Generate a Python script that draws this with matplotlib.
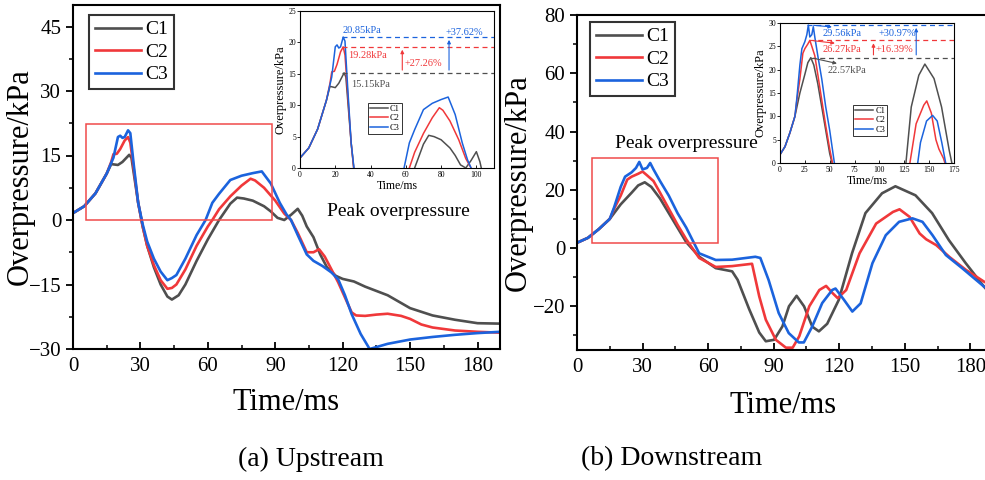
import matplotlib.pyplot as plt
from matplotlib.patches import Rectangle
from matplotlib.ticker import MultipleLocator

plt.rcParams['font.family'] = ['Liberation Serif', 'DejaVu Serif']
plt.rcParams['mathtext.fontset'] = 'stix'

# ---- (a) Upstream ----
up_c1_t = [0, 5, 10, 15, 17, 20, 22, 24, 25, 26, 27, 29, 31, 33, 36, 39, 42, 44, 47, 50, 55, 60, 65,
           70, 73, 76, 80, 85, 88, 91, 94, 97, 100, 102, 104, 107, 110, 113, 117, 120, 125, 130, 140,
           150, 160, 170, 180, 190]
up_c1_v = [1.6, 3.2, 6.2, 10.8, 13.0, 12.8, 13.5, 14.6, 15.15, 14.5, 11.0, 4.0, -1.5, -6.0, -11.0,
           -15.0, -17.8, -18.5, -17.5, -15.0, -9.5, -4.5, 0.0, 3.8, 5.2, 5.0, 4.5, 3.2, 2.0, 0.5, 0.0,
           1.2, 2.6, 1.0, -1.5, -4.0, -8.0, -11.0, -13.0, -13.7, -14.3, -15.5, -17.5, -20.5, -22.2,
           -23.2, -24.0, -24.1]

up_c2_t = [0, 5, 10, 15, 17, 18, 19.5, 21, 23, 24.5, 25.5, 27, 29, 31, 33, 36, 39, 42, 44, 46, 50,
           55, 60, 62, 65, 70, 75, 79, 81, 85, 90, 94, 97, 100, 104, 107, 109.5, 112, 115, 118, 121,
           124, 126, 130, 135, 140, 146, 150, 155, 160, 170, 180, 190]
up_c2_v = [1.6, 3.2, 6.2, 10.8, 13.5, 15.3, 15.4, 16.5, 18.5, 19.28, 18.0, 12.0, 4.0, -1.5, -6.0,
           -10.5, -14.0, -16.0, -15.8, -15.0, -11.5, -6.0, -1.5, 0.0, 2.5, 5.5, 8.0, 9.6, 9.2, 7.5,
           4.5, 1.5, 0.0, -3.0, -7.5, -7.5, -6.8, -8.5, -11.5, -14.5, -18.0, -21.5, -22.2, -22.3,
           -22.0, -21.8, -22.3, -23.0, -24.3, -25.0, -25.7, -26.0, -26.2]

up_c3_t = [0, 5, 10, 15, 18, 20, 21, 22, 23, 24.5, 25.5, 27, 29, 31, 33, 36, 39, 42, 44, 46, 50, 55,
           59, 62, 65, 70, 75, 80, 84, 88, 92, 95, 97, 100, 104, 107, 111, 115, 118, 121, 124, 128,
           132, 140, 150, 160, 170, 180, 190]
up_c3_v = [1.6, 3.2, 6.2, 10.8, 14.5, 19.3, 19.6, 19.1, 19.3, 20.85, 20.2, 13.0, 4.0, -1.0, -5.0,
           -9.0, -12.0, -14.0, -13.5, -12.8, -9.0, -3.5, 0.0, 4.0, 6.1, 9.3, 10.3, 10.9, 11.3, 8.5,
           4.0, 1.3, 0.0, -3.5, -8.0, -9.5, -10.7, -12.2, -13.8, -17.5, -21.9, -26.5, -30.0, -28.8,
           -27.8, -27.2, -26.7, -26.3, -26.0]

# ---- (b) Downstream ----
dn_c1_t = [0, 5, 10, 15, 20, 25, 28, 31, 34, 38, 42, 46, 50, 56, 63.5, 71, 73.5, 78.8, 83.4, 86.4,
           90.2, 94, 97, 100.5, 103.9, 107.7, 110.7, 114.5, 119.8, 125.9, 132, 139.6, 145.7, 154.9,
           162.5, 170.2, 177.8, 186.2, 190]
dn_c1_v = [1.8, 3.5, 6.5, 10.0, 15.0, 19.0, 21.5, 22.57, 21.0, 17.0, 12.0, 7.0, 2.0, -3.0, -6.9,
           -8.0, -10.9, -21.0, -29.0, -32.0, -31.5, -26.9, -20.0, -16.4, -20.0, -27.0, -28.6, -26.0,
           -17.8, -1.7, 12.0, 18.8, 21.2, 18.1, 12.0, 2.7, -5.1, -13.2, -16.5]

dn_c2_t = [0, 5, 10, 15, 17, 20, 23, 25, 28, 30, 32, 35, 38, 42, 46, 50, 55.9, 63.5, 71, 80.1, 83.4,
           86.4, 91, 95.6, 98.7, 101.7, 106.3, 110.9, 114, 117, 119.3, 123.2, 129.3, 136.9, 144.6,
           147.6, 152.2, 156.8, 159.8, 164.4, 170.5, 178, 186.2, 190]
dn_c2_v = [1.8, 3.5, 6.5, 10.0, 13.5, 18.0, 23.5, 24.5, 25.5, 26.27, 25.0, 23.0, 19.0, 13.5, 8.0,
           3.0, -3.4, -6.5, -6.2, -5.4, -16.6, -24.6, -31.5, -34.2, -34.2, -30.3, -20.0, -14.4,
           -13.0, -15.5, -17.2, -14.4, -1.8, 8.4, 12.4, 13.3, 10.7, 5.0, 3.0, 1.0, -3.1, -7.5,
           -11.5, -13.0]

dn_c3_t = [0, 5, 10, 15, 17, 20, 22, 25, 27, 28.5, 30, 32, 33.5, 35, 38, 42, 46, 50, 55.9, 63.5,
           71, 81.6, 83.9, 87.7, 92.3, 96.9, 101.5, 103.8, 107.6, 112.2, 116.8, 118.3, 122.2, 126,
           129.8, 135.2, 141.3, 147.4, 153.5, 158.1, 162.7, 168.8, 176.4, 186.2, 190]
dn_c3_v = [1.8, 3.5, 6.5, 10.0, 14.0, 21.0, 24.5, 26.0, 27.5, 29.56, 27.0, 27.5, 29.2, 27.0, 23.0,
           18.0, 12.0, 7.0, -1.8, -4.1, -4.0, -3.0, -3.4, -11.0, -22.3, -29.2, -32.4, -32.4, -27.0,
           -18.9, -14.4, -13.9, -17.8, -21.8, -19.0, -5.2, 4.4, 9.0, 10.2, 9.0, 4.4, -2.4, -7.0,
           -13.2, -15.0]

labels = ['C1', 'C2', 'C3']
colors = ['#4f4f4f', '#f0383a', '#1b63dd']

up_peaks = [15.15, 19.28, 20.85]
dn_peaks = [22.57, 26.27, 29.56]

W, H = 985, 480


def box(x0, y0, x1, y1):
    return [x0 / W, 1 - y1 / H, (x1 - x0) / W, (y1 - y0) / H]


def style_main(ax):
    for s in ax.spines.values():
        s.set_linewidth(1.5)
    ax.tick_params(axis='x', which='both', direction='in', labelsize=15, pad=6)
    ax.tick_params(axis='y', which='both', direction='out', labelsize=15)
    ax.tick_params(which='major', length=5, width=1.3)
    ax.tick_params(which='minor', length=3, width=1.1)
    ax.set_xlabel('Time/ms', fontsize=22)
    ax.set_ylabel('Overpressure/kPa', fontsize=22)


def style_inset(ax):
    for s in ax.spines.values():
        s.set_linewidth(0.8)
    ax.tick_params(axis='x', direction='in', labelsize=5.5, length=2, width=0.6, pad=2)
    ax.tick_params(axis='y', direction='out', labelsize=5.5, length=2, width=0.6, pad=1)
    ax.set_xlabel('Time/ms', fontsize=8.5, labelpad=1)
    ax.set_ylabel('Overpressure/kPa', fontsize=9, labelpad=1)


fig = plt.figure(figsize=(9.85, 4.8), dpi=100)
ax1 = fig.add_axes(box(73, 5, 500, 349))
ax2 = fig.add_axes(box(577, 15, 990, 350))
in1 = fig.add_axes(box(300, 11, 494, 168))
in2 = fig.add_axes(box(780, 23, 954, 163))

up = [(up_c1_t, up_c1_v), (up_c2_t, up_c2_v), (up_c3_t, up_c3_v)]
dn = [(dn_c1_t, dn_c1_v), (dn_c2_t, dn_c2_v), (dn_c3_t, dn_c3_v)]

for (t, v), lab, c in zip(up, labels, colors):
    ax1.plot(t, v, color=c, lw=1.9, label=lab)
    in1.plot(t, v, color=c, lw=1.1, label=lab)
for (t, v), lab, c in zip(dn, labels, colors):
    ax2.plot(t, v, color=c, lw=1.9, label=lab)
    in2.plot(t, v, color=c, lw=1.1, label=lab)

# main axes (a)
ax1.set_xlim(0, 190)
ax1.set_ylim(-30, 50)
ax1.set_xticks([0, 30, 60, 90, 120, 150, 180])
ax1.set_yticks([-30, -15, 0, 15, 30, 45])
ax1.xaxis.set_minor_locator(MultipleLocator(15))
ax1.yaxis.set_minor_locator(MultipleLocator(7.5))
style_main(ax1)
ax1.yaxis.set_label_coords(-0.09, 0.5)
ax1.xaxis.set_label_coords(0.5, -0.113)
ax1.add_patch(Rectangle((5.6, 0), 82.8, 22.3, fill=False, edgecolor='#f04a4a', lw=1.1, zorder=5))
ax1.text(145, 2.0, 'Peak overpressure', fontsize=14, ha='center', va='center')
ax1.legend(loc='upper left', bbox_to_anchor=(0.037, 0.971), borderaxespad=0, fontsize=14,
           frameon=True, fancybox=False, edgecolor='black', handlelength=2.4, handletextpad=0.2,
           labelspacing=0.25, borderpad=0.3).get_frame().set_linewidth(1.5)

# main axes (b)
ax2.set_xlim(0, 189)
ax2.set_ylim(-35, 80)
ax2.set_xticks([0, 30, 60, 90, 120, 150, 180])
ax2.set_yticks([-20, 0, 20, 40, 60, 80])
ax2.xaxis.set_minor_locator(MultipleLocator(15))
ax2.yaxis.set_minor_locator(MultipleLocator(10))
style_main(ax2)
ax2.yaxis.set_label_coords(-0.107, 0.5)
ax2.xaxis.set_label_coords(0.5, -0.122)
ax2.add_patch(Rectangle((6.7, 1.7), 57.9, 29.2, fill=False, edgecolor='#f04a4a', lw=1.1, zorder=5))
ax2.text(50, 36, 'Peak overpressure', fontsize=14, ha='center', va='center')
ax2.legend(loc='upper left', bbox_to_anchor=(0.031, 0.979), borderaxespad=0, fontsize=14,
           frameon=True, fancybox=False, edgecolor='black', handlelength=2.4, handletextpad=0.2,
           labelspacing=0.25, borderpad=0.3).get_frame().set_linewidth(1.5)

# inset (a)
in1.set_xlim(0, 110)
in1.set_ylim(0, 25)
in1.set_xticks([0, 20, 40, 60, 80, 100])
in1.set_yticks([0, 5, 10, 15, 20, 25])
style_inset(in1)
for p, c in zip(up_peaks, colors):
    in1.plot([24, 110], [p, p], color=c, lw=0.9, ls=(0, (4, 3)))
in1.text(24, 21.1, '20.85kPa', color=colors[2], fontsize=7.5, va='bottom', ha='left')
in1.text(27.5, 18.7, '19.28kPa', color=colors[1], fontsize=7.5, va='top', ha='left')
in1.text(29, 13.3, '15.15kPa', color=colors[0], fontsize=7.5, va='center', ha='left')
in1.annotate('', xy=(58, up_peaks[1]), xytext=(58, up_peaks[0]),
             arrowprops=dict(arrowstyle='-|>', color=colors[1], lw=0.8, mutation_scale=5))
in1.text(59.5, 16.6, '+27.26%', color=colors[1], fontsize=7.5, va='center', ha='left')
in1.annotate('', xy=(84.5, up_peaks[2]), xytext=(84.5, up_peaks[0]),
             arrowprops=dict(arrowstyle='-|>', color=colors[2], lw=0.8, mutation_scale=5))
in1.text(93, 21.6, '+37.62%', color=colors[2], fontsize=7.5, va='center', ha='center')
in1.legend(loc='upper left', bbox_to_anchor=(0.35, 0.414), borderaxespad=0, fontsize=6,
           frameon=True, fancybox=False, edgecolor='black', handlelength=2.2, handletextpad=0.2,
           labelspacing=0.15, borderpad=0.25).get_frame().set_linewidth(0.7)

# inset (b)
in2.set_xlim(0, 175)
in2.set_ylim(0, 30)
in2.set_xticks([0, 25, 50, 75, 100, 125, 150, 175])
in2.set_yticks([0, 5, 10, 15, 20, 25, 30])
style_inset(in2)
for p, c, x0 in zip(dn_peaks, colors, [31, 29, 27]):
    in2.plot([x0, 175], [p, p], color=c, lw=0.9, ls=(0, (4, 3)))
for p, c, xe, ye in zip(dn_peaks, colors, [60, 58, 55], [21.2, 25.6, 29.1]):
    in2.annotate('', xy=(xe, ye), xytext=(31, p),
                 arrowprops=dict(arrowstyle='-|>', color=c, lw=0.8, mutation_scale=5))
in2.text(62, 27.8, '29.56kPa', color=colors[2], fontsize=7.5, va='center', ha='center')
in2.text(62, 24.4, '26.27kPa', color=colors[1], fontsize=7.5, va='center', ha='center')
in2.text(67, 19.9, '22.57kPa', color=colors[0], fontsize=7.5, va='center', ha='center')
in2.annotate('', xy=(94, dn_peaks[1]), xytext=(94, dn_peaks[0]),
             arrowprops=dict(arrowstyle='-|>', color=colors[1], lw=0.8, mutation_scale=5))
in2.text(96, 24.4, '+16.39%', color=colors[1], fontsize=7.5, va='center', ha='left')
in2.annotate('', xy=(137, dn_peaks[2]), xytext=(137, dn_peaks[0]),
             arrowprops=dict(arrowstyle='-|>', color=colors[2], lw=0.8, mutation_scale=5))
in2.text(118, 27.8, '+30.97%', color=colors[2], fontsize=7.5, va='center', ha='center')
in2.legend(loc='upper left', bbox_to_anchor=(0.42, 0.414), borderaxespad=0, fontsize=6,
           frameon=True, fancybox=False, edgecolor='black', handlelength=2.2, handletextpad=0.2,
           labelspacing=0.15, borderpad=0.25).get_frame().set_linewidth(0.7)

fig.text(311 / W, 1 - 459 / H, '(a) Upstream', fontsize=20, ha='center', va='center')
fig.text(672 / W, 1 - 459 / H, '(b) Downstream', fontsize=20, ha='center', va='center')

fig.savefig('out.png', dpi=100)
